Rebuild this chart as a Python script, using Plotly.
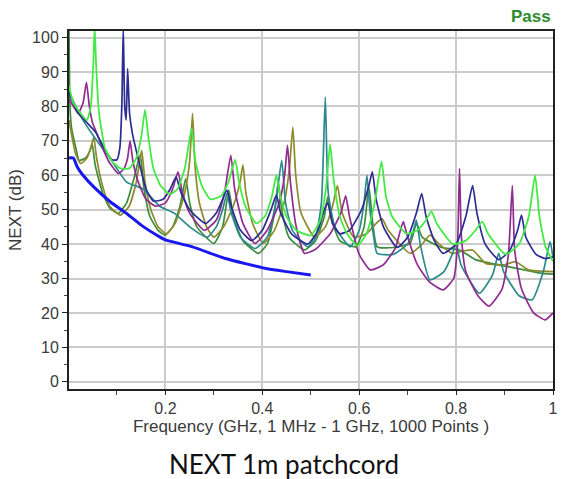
import plotly.graph_objects as go

# ---------------- data ----------------
limit_f = [0.001, 0.010, 0.018, 0.030, 0.052, 0.086, 0.120, 0.150, 0.188, 0.200, 0.256, 0.324, 0.405, 0.450, 0.500]
limit_db = [65, 65, 62.4, 60, 56.6, 52.3, 48.9, 45.5, 42.1, 41.2, 39.2, 35.8, 33, 32, 31]

green_f = [0.001, 0.010, 0.025, 0.038, 0.046, 0.051, 0.054, 0.057, 0.063, 0.075, 0.090, 0.107, 0.125, 0.140, 0.150,
           0.158, 0.164, 0.175, 0.190, 0.209, 0.225, 0.240, 0.254, 0.262, 0.275, 0.293, 0.315, 0.330, 0.344, 0.352,
           0.365, 0.388, 0.405, 0.420, 0.429, 0.437, 0.450, 0.470, 0.500, 0.520, 0.532, 0.540, 0.547, 0.560, 0.575,
           0.596, 0.615, 0.632, 0.646, 0.655, 0.668, 0.698, 0.720, 0.738, 0.749, 0.760, 0.793, 0.820, 0.840, 0.854,
           0.866, 0.902, 0.930, 0.950, 0.963, 0.972, 0.985, 1.000]
green_db = [86, 81, 78, 76, 80, 92, 103, 92, 78, 68, 64, 62, 62, 65, 71,
            79, 72, 62, 57, 54.5, 56, 62, 73.5, 64, 57, 53, 54, 58, 64.5, 58,
            51, 46, 48, 54, 60, 54, 48, 44, 42.5, 47, 57, 69, 59, 48, 43,
            39.5, 43, 52, 64, 54, 48, 43, 44, 47, 49.5, 46, 40, 41, 44, 46.5,
            43, 37, 40, 48, 60, 48, 39, 35]

navy_f = [0.001, 0.008, 0.020, 0.040, 0.056, 0.075, 0.090, 0.100, 0.106, 0.110, 0.113, 0.116, 0.119, 0.122, 0.126,
          0.132, 0.147, 0.160, 0.175, 0.195, 0.210, 0.222, 0.232, 0.250, 0.283, 0.305, 0.318, 0.327, 0.336, 0.355,
          0.378, 0.400, 0.418, 0.429, 0.438, 0.460, 0.494, 0.515, 0.528, 0.535, 0.545, 0.560, 0.580, 0.605, 0.620,
          0.627, 0.635, 0.650, 0.678, 0.700, 0.718, 0.729, 0.738, 0.755, 0.773, 0.800, 0.820, 0.834, 0.843, 0.860,
          0.888, 0.910, 0.927, 0.935, 0.944, 0.965, 0.984, 1.000]
navy_db = [84, 81.5, 78, 75, 72.5, 67.5, 64.5, 64.5, 68, 80, 103, 80, 76, 91, 78,
           72, 63, 56, 52.5, 53, 56, 59.5, 55, 50, 46, 49, 53, 55.7, 51, 44,
           41, 44, 50, 54.2, 49, 43, 40, 44, 50, 52, 46, 43, 44, 50, 57,
           61, 53, 45, 39, 42, 49, 54.7, 48, 41, 37.3, 40, 48, 57, 49, 40,
           35.5, 38, 44, 48.4, 42, 37, 35.8, 36.3]

purple_f = [0.001, 0.008, 0.020, 0.030, 0.037, 0.043, 0.050, 0.056, 0.070, 0.083, 0.103, 0.115, 0.122, 0.127, 0.133,
            0.144, 0.160, 0.180, 0.200, 0.215, 0.226, 0.235, 0.250, 0.280, 0.305, 0.322, 0.335, 0.343, 0.360, 0.385,
            0.410, 0.435, 0.446, 0.452, 0.458, 0.470, 0.487, 0.510, 0.540, 0.562, 0.572, 0.580, 0.600, 0.623, 0.650,
            0.675, 0.685, 0.691, 0.698, 0.720, 0.745, 0.773, 0.795, 0.803, 0.807, 0.811, 0.820, 0.845, 0.868, 0.895,
            0.908, 0.916, 0.921, 0.935, 0.960, 0.984, 1.000]
purple_db = [82, 80.5, 78, 81, 87, 80, 75, 73, 68, 64, 60.5, 62, 65, 70, 64,
             58, 53, 51, 52, 56, 61, 55, 49, 44, 47, 55, 65.8, 56, 46, 40.2,
             44, 52, 60, 68.7, 58, 45, 37.3, 38.5, 43, 49, 54, 48, 37, 32.5, 34,
             39, 44, 46.5, 43, 34, 29, 26.7, 30, 40, 62, 42, 32, 25, 22, 27,
             37, 57, 38, 27, 20, 18, 20]

teal_f = [0.001, 0.008, 0.030, 0.056, 0.090, 0.120, 0.154, 0.188, 0.218, 0.250, 0.286, 0.305, 0.318, 0.327, 0.336,
          0.355, 0.385, 0.410, 0.428, 0.440, 0.448, 0.462, 0.494, 0.510, 0.522, 0.530, 0.536, 0.550, 0.582, 0.600,
          0.610, 0.616, 0.622, 0.630, 0.637, 0.670, 0.700, 0.712, 0.718, 0.726, 0.746, 0.775, 0.792, 0.800, 0.810,
          0.848, 0.875, 0.888, 0.898, 0.930, 0.957, 0.980, 0.994, 1.000]
teal_db = [84, 82, 76, 70.5, 64, 58, 56, 51, 49, 45, 42, 45, 50, 54.7, 49,
           42, 38.7, 42, 52, 64.3, 52, 44, 39.2, 42, 52, 82.7, 55, 45, 39.2, 44,
           52, 60, 50, 42, 37.3, 37, 40, 44, 47, 40, 29.6, 32, 37, 40.2, 34,
           25.7, 31, 37.3, 32, 25, 23.8, 32, 40.7, 36]

olive_f = [0.001, 0.006, 0.015, 0.025, 0.038, 0.046, 0.052, 0.058, 0.070, 0.085, 0.107, 0.125, 0.140, 0.151, 0.158,
           0.170, 0.185, 0.202, 0.220, 0.240, 0.250, 0.256, 0.261, 0.270, 0.285, 0.300, 0.320, 0.340, 0.354, 0.360,
           0.366, 0.380, 0.402, 0.425, 0.445, 0.456, 0.463, 0.469, 0.480, 0.508, 0.530, 0.545, 0.555, 0.565, 0.589,
           0.615, 0.635, 0.647, 0.660, 0.705, 0.730, 0.746, 0.765, 0.793, 0.815, 0.834, 0.861, 0.900, 0.922, 0.950,
           1.000]
olive_db = [76, 72, 66, 63.4, 65, 68, 71, 65, 57, 51, 48.4, 51, 58, 67.2, 58,
            50, 45, 43, 46, 55, 64, 78, 63, 52, 45, 42, 45, 51, 58, 63,
            55, 46, 40.2, 44, 52, 62, 74, 60, 49, 42, 45, 51, 57, 49, 42,
            43, 46, 47.4, 44, 37.3, 40, 42.6, 40, 37.3, 38, 38.3, 34.4, 34, 34.9, 32.5,
            32]

dkgreen_f = [0.001, 0.003, 0.006, 0.015, 0.022, 0.035, 0.044, 0.049, 0.055, 0.070, 0.085, 0.103, 0.120, 0.135, 0.148,
             0.155, 0.168, 0.185, 0.199, 0.215, 0.230, 0.242, 0.250, 0.265, 0.300, 0.318, 0.331, 0.340, 0.360, 0.392,
             0.410, 0.425, 0.433, 0.440, 0.455, 0.487, 0.510, 0.528, 0.535, 0.543, 0.560, 0.593, 0.610, 0.620, 0.628,
             0.637, 0.670, 0.705, 0.718, 0.730, 0.770, 0.807, 0.841, 0.909, 0.977, 1.000]
dkgreen_db = [102, 80, 74, 68, 64.3, 65, 67, 69, 63, 55, 50.5, 48.9, 52, 59, 66,
              57, 48, 44, 42.6, 45, 51, 59, 52, 45, 40.2, 45, 55.7, 48, 41, 37.3,
              40, 49, 58, 50, 42, 38.3, 41, 48, 53.7, 47, 41, 39.2, 45, 56.6, 46,
              39.2, 39, 40.2, 46, 42, 39, 38.3, 35.4, 33.4, 31.5, 31.3]

x_tickvals = [0.2, 0.4, 0.6, 0.8, 1.0]
x_ticktext = ["0.2", "0.4", "0.6", "0.8", "1"]
y_tickvals = [0, 10, 20, 30, 40, 50, 60, 70, 80, 90, 100]

# ---------------- figure ----------------
fig = go.Figure()
series = [
    (dkgreen_f, dkgreen_db, "#3c8c3c", 1.7),
    (olive_f, olive_db, "#8e8a2c", 1.7),
    (teal_f, teal_db, "#2c8a8c", 1.7),
    (purple_f, purple_db, "#902c90", 1.7),
    (navy_f, navy_db, "#2c2c92", 1.7),
    (green_f, green_db, "#44ea44", 1.8),
    (limit_f, limit_db, "#1818ee", 3),
]
for fx, fy, col, w in series:
    fig.add_trace(go.Scatter(x=fx, y=fy, mode="lines",
                             line=dict(color=col, width=w, shape="spline", smoothing=0.5),
                             showlegend=False, hoverinfo="skip"))

axis_font = dict(family="Liberation Sans, Arial, sans-serif", size=16, color="#3a3a3a")
title_font = dict(family="Liberation Sans, Arial, sans-serif", size=17, color="#3a3a3a")

fig.update_layout(
    width=563, height=479,
    margin=dict(l=69, r=5, t=31, b=90),
    paper_bgcolor="white", plot_bgcolor="white",
    xaxis=dict(range=[0.001, 1.0], tickvals=x_tickvals, ticktext=x_ticktext,
               showgrid=True, gridcolor="#cbcbcb", gridwidth=1.5,
               showline=True, linecolor="#222222", linewidth=2, mirror=True,
               ticks="outside", ticklen=4, tickcolor="#222222",
               minor=dict(dtick=0.1, tick0=0, ticks="outside", ticklen=4, tickcolor="#444444", showgrid=False),
               tickfont=axis_font, zeroline=False,
               title=dict(text="Frequency (GHz, 1 MHz - 1 GHz, 1000 Points )",
                          font=title_font, standoff=0)),
    yaxis=dict(range=[-2.1, 101.9], tickvals=y_tickvals,
               showgrid=True, gridcolor="#cbcbcb", gridwidth=1.5,
               showline=True, linecolor="#222222", linewidth=2, mirror=True,
               ticks="outside", ticklen=5, tickcolor="#222222",
               minor=dict(dtick=5, tick0=0, ticks="outside", ticklen=3, tickcolor="#444444", showgrid=False),
               tickfont=axis_font, zeroline=False,
               title=dict(text="NEXT (dB)", font=title_font, standoff=6)),
    annotations=[
        dict(text="<b>Pass</b>", x=1.0, y=1.0, xref="paper", yref="paper",
             xanchor="right", yanchor="bottom", yshift=3, showarrow=False,
             font=dict(family="Liberation Sans, Arial, sans-serif", size=17, color="#2e8b2e")),
        dict(text="NEXT 1m patchcord", x=0.444, y=0, xref="paper", yref="paper",
             xanchor="center", yanchor="middle", yshift=-75, showarrow=False,
             font=dict(family="Lato, Open Sans, sans-serif", size=26, color="#111111")),
    ],
)

fig.write_html("out.html", config={"displayModeBar": False},
               post_script="document.body.style.margin='0px';document.body.style.overflow='hidden';"
                           "document.documentElement.style.overflow='hidden';")
